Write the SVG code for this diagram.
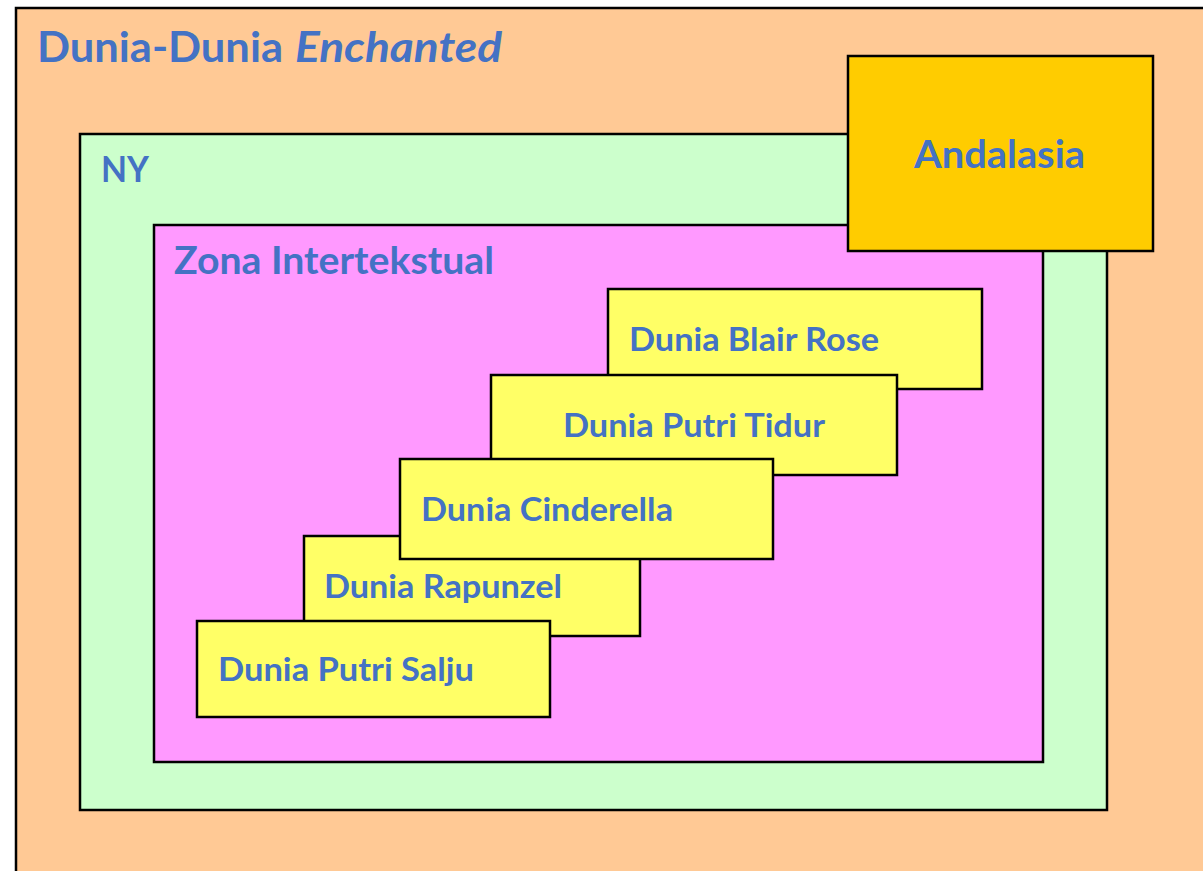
<svg xmlns="http://www.w3.org/2000/svg" width="1203" height="871" viewBox="0 0 1203 871">
<style>
.box{stroke:#000;stroke-width:2.5}
.t{font-family:Lato,"Open Sans","Liberation Sans",sans-serif;font-weight:bold;fill:#4472C4}
.s{font-size:32px}
</style>
<rect width="1203" height="871" fill="#fff"/>
<g id="outer">
<rect class="box" x="16" y="8" width="1210" height="900" fill="#FFC995"/>
<text class="t" x="37" y="62" font-size="42" textLength="246" lengthAdjust="spacingAndGlyphs">Dunia-Dunia</text>
<text class="t" x="295" y="62" font-size="42" font-style="italic" textLength="207" lengthAdjust="spacingAndGlyphs">Enchanted</text>
</g>
<g id="ny">
<rect class="box" x="80" y="134" width="1027" height="676" fill="#CCFFCC"/>
<text class="t" x="101" y="182" font-size="36" textLength="48" lengthAdjust="spacingAndGlyphs">NY</text>
</g>
<g id="zona">
<rect class="box" x="154" y="225" width="889" height="537" fill="#FF99FF"/>
<text class="t" x="174" y="274" font-size="38" textLength="320" lengthAdjust="spacingAndGlyphs">Zona Intertekstual</text>
</g>
<g id="andalasia">
<rect class="box" x="848" y="56" width="305" height="195" fill="#FFCC00"/>
<text class="t" x="914" y="168" font-size="39" textLength="171" lengthAdjust="spacingAndGlyphs">Andalasia</text>
</g>
<g id="blair">
<rect class="box" x="608" y="289" width="374" height="100" fill="#FFFF66"/>
<text class="t s" x="629" y="351" textLength="250" lengthAdjust="spacingAndGlyphs">Dunia Blair Rose</text>
</g>
<g id="tidur">
<rect class="box" x="491" y="375" width="406" height="100" fill="#FFFF66"/>
<text class="t s" x="563" y="437" textLength="262" lengthAdjust="spacingAndGlyphs">Dunia Putri Tidur</text>
</g>
<g id="rapunzel">
<rect class="box" x="304" y="536" width="336" height="100" fill="#FFFF66"/>
<text class="t s" x="324" y="598" textLength="238" lengthAdjust="spacingAndGlyphs">Dunia Rapunzel</text>
</g>
<g id="cinderella">
<rect class="box" x="400" y="459" width="373" height="100" fill="#FFFF66"/>
<text class="t s" x="421" y="521" textLength="252" lengthAdjust="spacingAndGlyphs">Dunia Cinderella</text>
</g>
<g id="salju">
<rect class="box" x="197" y="621" width="353" height="96" fill="#FFFF66"/>
<text class="t s" x="218" y="681" textLength="256" lengthAdjust="spacingAndGlyphs">Dunia Putri Salju</text>
</g>
<g id="connectors"></g>
</svg>
